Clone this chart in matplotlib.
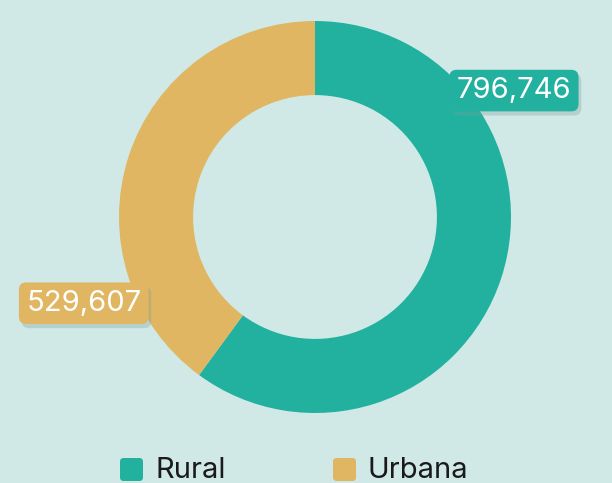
import matplotlib.pyplot as plt
from matplotlib.patches import FancyBboxPatch
import matplotlib.patheffects as pe

# datos
categories = ['Rural', 'Urbana']
values = [796746, 529607]
colors = ['#22b19f', '#e0b662']
bg = '#d1e9e6'

plt.rcParams['font.family'] = ['Inter', 'DejaVu Sans']

W, H = 612, 483
fig = plt.figure(figsize=(W / 100, H / 100), dpi=100, facecolor=bg)
ax = fig.add_axes([119 / W, 70 / H, 392 / W, 392 / H])
ax.set_facecolor(bg)

wedges, _ = ax.pie(values, colors=colors, startangle=90, counterclock=False,
                   radius=1, wedgeprops=dict(width=0.378, edgecolor='none'))
ax.set_xlim(-1, 1)
ax.set_ylim(-1, 1)
ax.set_aspect('equal')
ax.axis('off')

# etiquetas con caja
label_pos = [(1.015, 0.645), (-1.18, -0.44)]
for val, col, (x, y) in zip(values, colors, label_pos):
    t = ax.text(x, y, f'{val:,}', ha='center', va='center', fontsize=21,
                color='white', clip_on=False,
                bbox=dict(boxstyle='round,pad=0.25,rounding_size=0.25',
                          facecolor=col, edgecolor='none'))
    t.get_bbox_patch().set_path_effects(
        [pe.SimplePatchShadow(offset=(2, -3), shadow_rgbFace='#7a9a96', alpha=0.3),
         pe.Normal()])

# leyenda manual
leg_x = [120, 333]
for cat, col, x0 in zip(categories, colors, leg_x):
    sq = FancyBboxPatch((x0 / W, (H - 481) / H), 23 / W, 23 / H,
                        boxstyle='round,pad=0,rounding_size=0.006',
                        transform=fig.transFigure, facecolor=col,
                        edgecolor='none', mutation_aspect=W / H)
    fig.add_artist(sq)
    fig.text((x0 + 35) / W, (H - 470) / H, cat, ha='left', va='center',
             fontsize=21, color='#1a1a1a')

fig.savefig('out.png', dpi=100, facecolor=bg)
